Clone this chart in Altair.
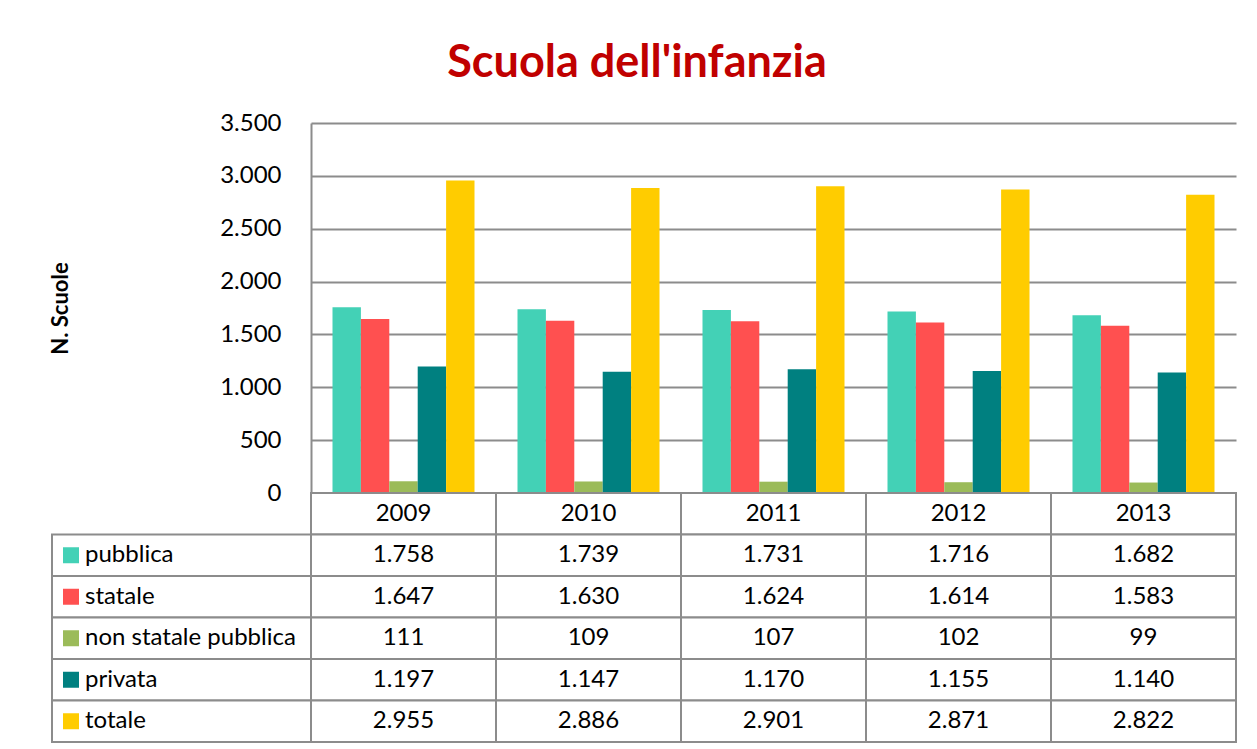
import altair as alt
import pandas as pd

years = ["2009", "2010", "2011", "2012", "2013"]
series = ["pubblica", "statale", "non statale pubblica", "privata", "totale"]
colors = ["#43D1B6", "#FF5050", "#9BBB59", "#008080", "#FFCC00"]
pubblica = [1758, 1739, 1731, 1716, 1682]
statale = [1647, 1630, 1624, 1614, 1583]
non_statale = [111, 109, 107, 102, 99]
privata = [1197, 1147, 1170, 1155, 1140]
totale = [2955, 2886, 2901, 2871, 2822]
y_ticks = [0, 500, 1000, 1500, 2000, 2500, 3000, 3500]

values = [pubblica, statale, non_statale, privata, totale]


def it_fmt(v):
    return f"{v:,}".replace(",", ".")


rows = []
for s, vals in zip(series, values):
    for y, v in zip(years, vals):
        rows.append({"anno": y, "serie": s, "valore": v, "testo": it_fmt(v)})
df = pd.DataFrame(rows)

header = pd.DataFrame({"anno": years, "serie": ["anno"] * len(years), "testo": years})
table_df = pd.concat([header, df[["anno", "serie", "testo"]]], ignore_index=True)
label_df = pd.DataFrame({"serie": series, "col": ["legenda"] * len(series)})

row_domain = ["anno"] + series
FONT = "Lato"
GRID = "#8C8C8C"
W_LEFT = 259
W_PLOT = 925
H_PLOT = 370
H_TABLE = 249

no_view = alt.ViewBackground(stroke="transparent", strokeWidth=0, fill="transparent")
color_scale = alt.Scale(domain=series, range=colors)

spacer = alt.Chart(pd.DataFrame({"a": [0]})).mark_point(opacity=0).properties(
    width=W_LEFT, height=H_PLOT, view=no_view
)

bars = alt.Chart(df).mark_bar().encode(
    x=alt.X("anno:N", sort=years, axis=None,
            scale=alt.Scale(paddingInner=0, paddingOuter=0)),
    xOffset=alt.XOffset("serie:N", sort=series,
                        scale=alt.Scale(paddingInner=0, paddingOuter=0.757)),
    y=alt.Y("valore:Q",
            scale=alt.Scale(domain=[0, 3500], nice=False),
            axis=alt.Axis(values=y_ticks, title="N. Scuole",
                          labelExpr="replace(format(datum.value, ','), ',', '.')",
                          labelFontSize=24, labelColor="black", labelPadding=30,
                          labelFont=FONT,
                          ticks=False, domainColor=GRID, domainWidth=2,
                          gridColor=GRID, gridWidth=2,
                          titleFontSize=22, titleFontWeight="bold", titleColor="black",
                          titleFont=FONT, titleX=-239, titleY=H_PLOT / 2)),
    color=alt.Color("serie:N", scale=color_scale, legend=None),
).properties(width=W_PLOT, height=H_PLOT, view=no_view)

row_scale = alt.Scale(domain=row_domain, paddingInner=0, paddingOuter=0)

label_base = alt.Chart(label_df).encode(
    y=alt.Y("serie:N", scale=row_scale, axis=None),
)
label_cells = label_base.mark_rect(fill="white", stroke=GRID, strokeWidth=2).encode(
    x=alt.X("col:N", axis=None, scale=alt.Scale(paddingInner=0, paddingOuter=0))
)
label_sq = label_base.mark_square(size=256, opacity=1).encode(
    x=alt.value(19),
    color=alt.Color("serie:N", scale=color_scale, legend=None),
)
label_txt = label_base.mark_text(align="left", baseline="middle", fontSize=24,
                                 font=FONT, color="black").encode(
    x=alt.value(33), text="serie:N"
)
labels = alt.layer(label_cells, label_sq, label_txt).properties(
    width=W_LEFT, height=H_TABLE, view=no_view
)

grid_base = alt.Chart(table_df).encode(
    x=alt.X("anno:N", sort=years, axis=None,
            scale=alt.Scale(paddingInner=0, paddingOuter=0)),
    y=alt.Y("serie:N", scale=row_scale, axis=None),
)
grid_cells = grid_base.mark_rect(fill="white", stroke=GRID, strokeWidth=2)
grid_txt = grid_base.mark_text(align="center", baseline="middle", fontSize=24,
                               font=FONT, color="black").encode(text="testo:N")
grid = alt.layer(grid_cells, grid_txt).properties(
    width=W_PLOT, height=H_TABLE, view=no_view
)

chart = alt.concat(
    spacer, bars, labels, grid, columns=2, spacing=0, bounds="flush"
).properties(
    title=alt.TitleParams(
        "Scuola dell'infanzia", fontSize=45, font=FONT, fontWeight="bold",
        color="#C00000", anchor="middle", offset=25, dx=-6,
    ),
    padding={"left": 41, "top": 33, "right": 5, "bottom": 5},
).configure_view(stroke="transparent", strokeWidth=0).configure(font=FONT)

chart.save("out.html", embed_options={"renderer": "svg", "actions": False})
